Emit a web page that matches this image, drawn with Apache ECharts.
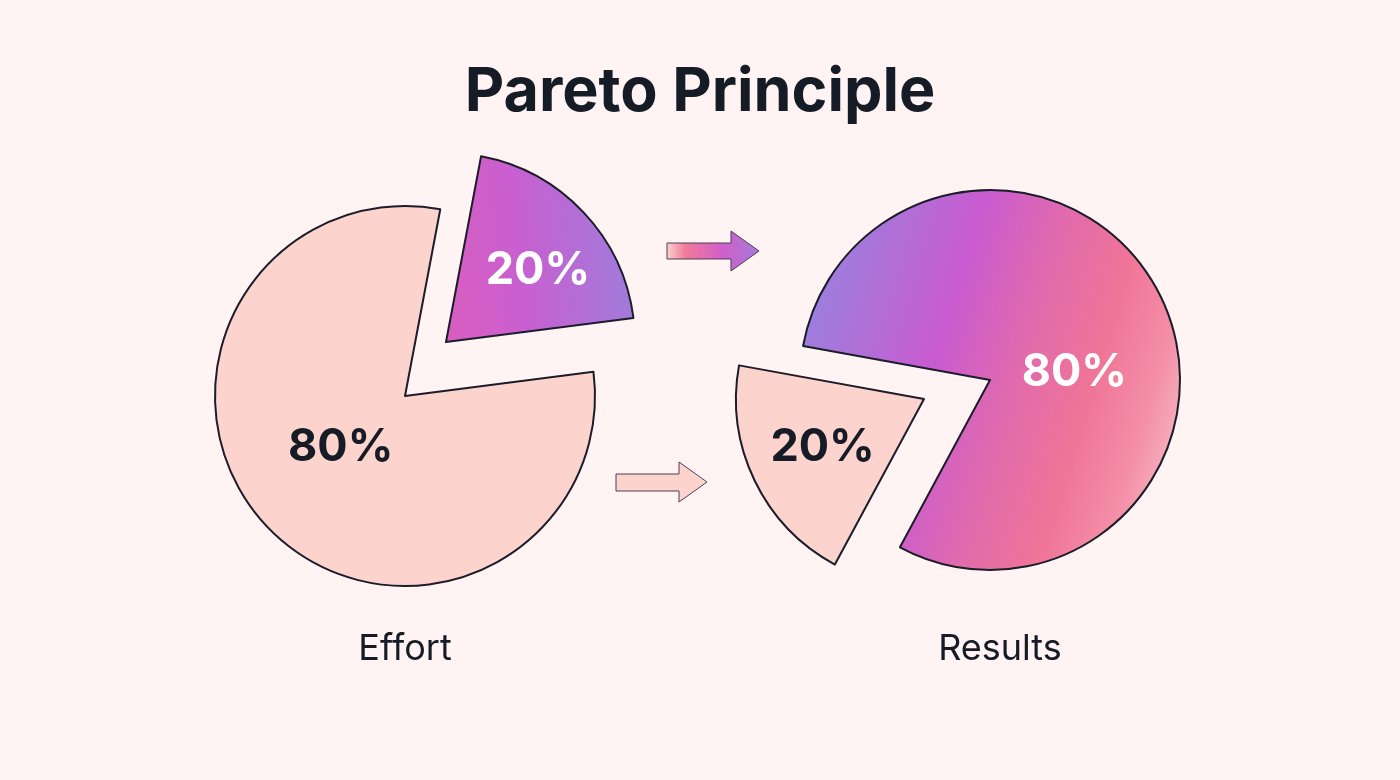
<!DOCTYPE html>
<html>
<head>
<meta charset="utf-8">
<title>Pareto Principle</title>
<script src="https://cdn.jsdelivr.net/npm/echarts@6/dist/echarts.min.js"></script>
<style>
  html, body { margin: 0; padding: 0; background: #fff4f3; }
  #chart { width: 1400px; height: 780px; }
</style>
</head>
<body>
<div id="chart"></div>
<script>
// vital few vs trivial many
const categories = ['Vital few', 'Trivial many'];
const effortValues = [20, 80];
const resultValues = [80, 20];
const pieTitles = ['Effort', 'Results'];

const ink = '#161c26';
const pink = '#fdd3ce';
const bg = '#fff4f3';

const chart = echarts.init(document.getElementById('chart'));

const leftGrad = new echarts.graphic.LinearGradient(0, 0.2, 1, 0.1, [
  { offset: 0, color: '#d65ec2' },
  { offset: 0.35, color: '#c95fd0' },
  { offset: 1, color: '#9c7edc' }
]);
const rightGrad = new echarts.graphic.LinearGradient(0, 0.35, 1, 0.65, [
  { offset: 0, color: '#9b80de' },
  { offset: 0.35, color: '#c95bd0' },
  { offset: 0.55, color: '#e06aae' },
  { offset: 0.75, color: '#f07597' },
  { offset: 0.9, color: '#f38fa7' },
  { offset: 1, color: '#f7b3bf' }
]);
const arrowGrad = new echarts.graphic.LinearGradient(0, 0, 1, 0, [
  { offset: 0, color: '#fcd3d0' },
  { offset: 0.2, color: '#f27a9a' },
  { offset: 0.6, color: '#d05fca' },
  { offset: 1, color: '#a57bd9' }
]);

const hidden = { itemStyle: { color: 'transparent', borderWidth: 0 }, label: { show: false } };
const border = { borderColor: '#1b1d2a', borderWidth: 2 };

// build pie items; `shown` picks which slice this layer draws
function items(values, shown, fills, labelColors) {
  return values.map((v, i) => {
    if (!shown.includes(i)) return Object.assign({ name: categories[i], value: v }, hidden);
    return {
      name: categories[i],
      value: v,
      itemStyle: Object.assign({ color: fills[i] }, border),
      label: { color: labelColors[i] }
    };
  });
}

function pieSeries(center, radius, startAngle, data, shifts) {
  return {
    type: 'pie',
    center: center,
    radius: radius,
    startAngle: startAngle,
    clockwise: true,
    silent: true,
    animation: false,
    emphasis: { disabled: true },
    label: {
      show: true,
      position: 'inside',
      formatter: '{c}%',
      fontFamily: 'Inter',
      fontWeight: 'bold',
      fontSize: 45
    },
    labelLine: { show: false },
    labelLayout: p => shifts[p.dataIndex],
    data: data
  };
}

const effortFills = [leftGrad, pink];
const resultFills = [rightGrad, pink];
const effortLabel = ['#ffffff', ink];
const resultLabel = ['#ffffff', ink];

const captionStyle = { fontFamily: 'Inter', fontWeight: 'normal', fontSize: 36, color: ink };

chart.setOption({
  backgroundColor: bg,
  title: [
    {
      text: 'Pareto Principle',
      left: 'center',
      top: 62,
      padding: 0,
      textStyle: { fontFamily: 'Inter', fontWeight: 'bold', fontSize: 61, color: ink }
    },
    { text: pieTitles[0], left: 405, textAlign: 'center', top: 631, padding: 0, textStyle: captionStyle },
    { text: pieTitles[1], left: 1000, textAlign: 'center', top: 631, padding: 0, textStyle: captionStyle }
  ],
  graphic: [
    {
      type: 'polygon',
      shape: { points: [[667, 243], [731, 243], [731, 231], [759, 251], [731, 271], [731, 259], [667, 259]] },
      style: { fill: arrowGrad, stroke: '#4d3f55', lineWidth: 1 }
    },
    {
      type: 'polygon',
      shape: { points: [[616, 474], [679, 474], [679, 462], [707, 482], [679, 502], [679, 491], [616, 491]] },
      style: { fill: pink, stroke: '#4d3f55', lineWidth: 1 }
    }
  ],
  series: [
    // Effort: main body + exploded 20% slice
    pieSeries([405, 396], 190, 79.3, items(effortValues, [1], effortFills, effortLabel),
      [{}, { dx: 7, dy: -16 }]),
    pieSeries([446, 342], 189, 79.3, items(effortValues, [0], effortFills, effortLabel),
      [{ dx: 21, dy: -5 }, {}]),
    // Results: main body + exploded 20% slice
    pieSeries([990, 380], 190, 169.7, items(resultValues, [0], resultFills, resultLabel),
      [{ dx: -4, dy: 35 }, {}]),
    pieSeries([924, 399], 188, 169.7, items(resultValues, [1], resultFills, resultLabel),
      [{}, { dx: -14, dy: 6 }])
  ]
});
</script>
</body>
</html>
